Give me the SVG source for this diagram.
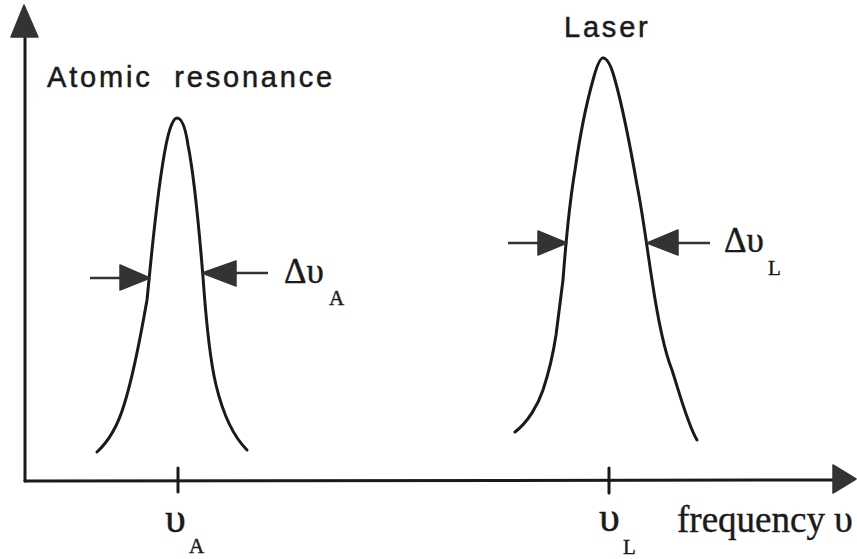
<svg xmlns="http://www.w3.org/2000/svg" width="857" height="559" viewBox="0 0 857 559">
<style>
.ln{fill:none;stroke:#1a1a1a;stroke-width:3;stroke-linecap:round;stroke-linejoin:round}
.ar{stroke:#333;stroke-width:2.5;fill:none}
.hd{fill:#333;stroke:#333;stroke-width:1.5;stroke-linejoin:round}
.sans{font-family:"Liberation Sans",Arial,sans-serif;font-size:29px;fill:#1a1a1a;stroke:#1a1a1a;stroke-width:0.5;letter-spacing:2.8px}
.serif{font-family:"Liberation Serif","Times New Roman",serif;fill:#1a1a1a;stroke:#1a1a1a;stroke-width:0.4}
</style>
<rect width="857" height="559" fill="#fff"/>
<g id="axes">
  <line class="ln" x1="25" y1="36" x2="25" y2="481"/>
  <polygon class="hd" points="24,5 11,37 38,37"/>
  <line class="ln" x1="25" y1="481" x2="834" y2="480"/>
  <polygon class="hd" points="856,479 833,465 833,493"/>
  <line class="ln" x1="178" y1="468" x2="178" y2="492"/>
  <line class="ln" x1="609" y1="468" x2="609" y2="493"/>
</g>
<g id="atomic-peak">
  <path class="ln" d="M97,452 C110,440 118,425 124,405 C132,380 140,340 147,300 L149,280 C153,240 158,185 166,145 C170,125 174,118 177,118 C181,118 185,125 188,145 C195,180 200,240 203,277 C206,320 210,360 216,385 C222,410 232,435 247,450"/>
  <text class="sans" x="47" y="87" word-spacing="11">Atomic resonance</text>
</g>
<g id="laser-peak">
  <path class="ln" d="M515,432 C528,422 538,405 543,390 C549,372 553,355 556,335 L563,280 C566,240 570,200 575,170 C580,135 586,105 593,80 C597,65 600,58 603,58 C607,58 611,65 615,80 C622,105 630,145 637,185 C643,215 648,255 652,280 C658,320 664,350 672,370 C680,395 688,425 697,440"/>
  <text class="sans" x="564" y="37">Laser</text>
</g>
<g id="connectors">
  <line class="ar" x1="90" y1="278" x2="121" y2="278"/>
  <polygon class="hd" points="120,265 150,278 120,290"/>
  <line class="ar" x1="235" y1="273" x2="268" y2="273"/>
  <polygon class="hd" points="236,261 202,273 236,286"/>
  <line class="ar" x1="508" y1="243" x2="539" y2="243"/>
  <polygon class="hd" points="538,231 567,243 538,255"/>
  <line class="ar" x1="677" y1="243" x2="710" y2="243"/>
  <polygon class="hd" points="678,230 647,243 678,255"/>
</g>
<g id="label-dvA">
  <text class="serif" x="284" y="283" font-size="35">Δυ</text>
  <text class="serif" x="329" y="305" font-size="21">A</text>
</g>
<g id="label-dvL">
  <text class="serif" x="724" y="252" font-size="35">Δυ</text>
  <text class="serif" x="768" y="275" font-size="21">L</text>
</g>
<g id="label-vA">
  <text class="serif" x="165" y="532" font-size="42">υ</text>
  <text class="serif" x="189" y="553" font-size="21">A</text>
</g>
<g id="label-vL">
  <text class="serif" x="599" y="531" font-size="42">υ</text>
  <text class="serif" x="623" y="554" font-size="21">L</text>
</g>
<g id="label-freq">
  <text class="serif" x="677" y="532" font-size="38"><tspan textLength="148" lengthAdjust="spacingAndGlyphs">frequency</tspan> <tspan x="834">υ</tspan></text>
</g>
</svg>
